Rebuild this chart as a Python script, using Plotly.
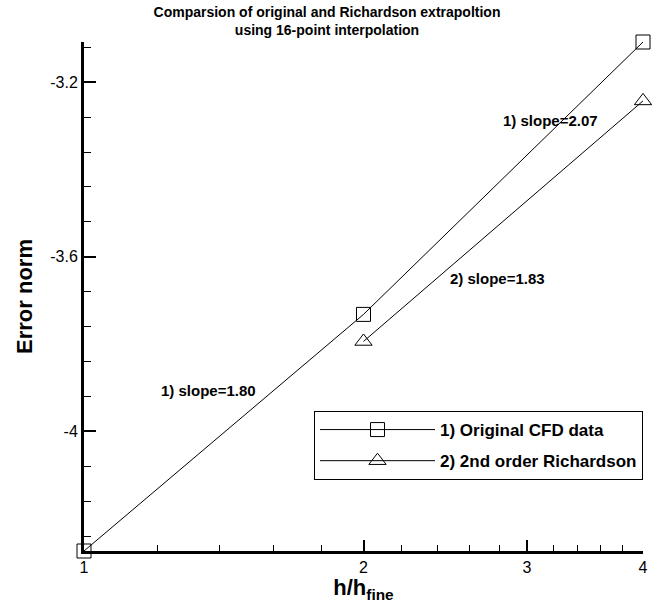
import numpy as np
import plotly.graph_objects as go

# Grid refinement ratio and error norms (log10)
h_ratio_orig = [1, 2, 4]
err_orig = [-4.274, -3.732, -3.108]

h_ratio_rich = [2, 4]
err_rich = [-3.794, -3.243]

# Axis ticks
x_major = [1, 2, 3, 4]
x_minor = [1.2, 1.4, 1.6, 1.8, 2.2, 2.4, 2.6, 2.8, 3.2, 3.4, 3.6, 3.8]
y_major = [-3.2, -3.6, -4]
y_major_text = ["-3.2", "-3.6", "-4"]

series_names = ["1) Original CFD data", "2) 2nd order Richardson"]


def slopes(x, y):
    lx = np.log10(np.asarray(x, dtype=float))
    return np.diff(np.asarray(y, dtype=float)) / np.diff(lx)


s_orig = slopes(h_ratio_orig, err_orig)
s_rich = slopes(h_ratio_rich, err_rich)

font_family = "Liberation Sans, Arial, Helvetica, sans-serif"

fig = go.Figure()
fig.add_trace(go.Scatter(
    x=h_ratio_orig, y=err_orig, mode="lines+markers",
    name="<b>%s</b>" % series_names[0],
    line=dict(color="black", width=1),
    marker=dict(symbol="square-open", size=14, color="black", line=dict(width=1)),
    cliponaxis=False, legendgroup="a",
))
fig.add_trace(go.Scatter(
    x=h_ratio_rich, y=err_rich, mode="lines+markers",
    name="<b>%s</b>" % series_names[1],
    line=dict(color="black", width=1),
    marker=dict(symbol="triangle-up-open", size=15, color="black", line=dict(width=1)),
    cliponaxis=False, legendgroup="b",
))

# Slope labels next to each segment
label_pos = [
    (1.363, -3.906, "1) slope=%.2f" % s_orig[0]),
    (3.18, -3.288, "1) slope=%.2f" % s_orig[1]),
    (2.79, -3.650, "2) slope=%.2f" % s_rich[0]),
]
for lx, ly, txt in label_pos:
    fig.add_annotation(
        x=np.log10(lx), y=ly, text="<b>%s</b>" % txt, showarrow=False,
        font=dict(family=font_family, size=15, color="black"),
    )

fig.update_layout(
    width=654, height=603,
    margin=dict(l=84, r=6, t=42, b=52),
    paper_bgcolor="white", plot_bgcolor="white",
    font=dict(family=font_family, color="black"),
    title=dict(
        text="<b>Comparsion of original and Richardson extrapoltion<br>using 16-point interpolation</b>",
        x=0.5, xref="container", xanchor="center",
        y=0.972, yref="container", yanchor="top",
        font=dict(family=font_family, size=14, color="black"),
    ),
    showlegend=True,
    legend=dict(
        x=1.0, xanchor="right", y=0.275, yanchor="top",
        bordercolor="black", borderwidth=1, bgcolor="white",
        font=dict(family=font_family, size=17, color="black"),
        itemwidth=115, tracegroupgap=6,
    ),
)

fig.update_xaxes(
    type="log", range=[0, np.log10(4)],
    tickmode="array", tickvals=x_major, ticktext=[str(v) for v in x_major],
    ticks="inside", ticklen=11, tickwidth=2, tickcolor="black",
    minor=dict(tickmode="array", tickvals=x_minor, ticks="inside",
               ticklen=6, tickwidth=1, tickcolor="black"),
    showline=True, linewidth=3, linecolor="black", mirror=False,
    showgrid=False, zeroline=False,
    tickfont=dict(family=font_family, size=16, color="black"),
    title=dict(text="<b>h/h<sub>fine</sub></b>", standoff=0,
               font=dict(family=font_family, size=22, color="black")),
)
fig.update_yaxes(
    range=[min(err_orig), max(err_orig)],
    tickmode="array", tickvals=y_major, ticktext=y_major_text,
    ticks="inside", ticklen=12, tickwidth=2, tickcolor="black",
    minor=dict(tick0=-3.2, dtick=0.08, ticks="inside",
               ticklen=7, tickwidth=1, tickcolor="black"),
    showline=True, linewidth=3, linecolor="black", mirror=False,
    showgrid=False, zeroline=False,
    tickfont=dict(family=font_family, size=16, color="black"),
    title=dict(text="<b>Error norm</b>", standoff=12,
               font=dict(family=font_family, size=22, color="black")),
)

fig.write_html("out.html")
